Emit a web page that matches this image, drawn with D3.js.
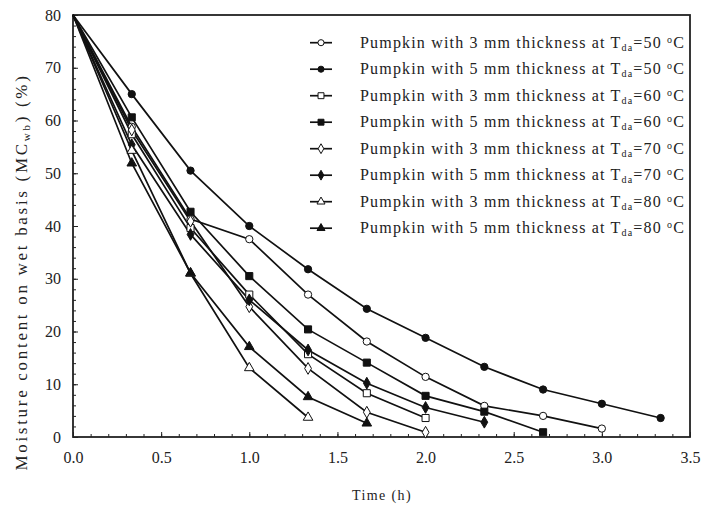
<!DOCTYPE html>
<html>
<head>
<meta charset="utf-8">
<script src="https://cdn.jsdelivr.net/npm/d3@7/dist/d3.min.js"></script>
<style>
  body { margin: 0; background: #fff; }
  text { font-family: "Liberation Serif", "Times New Roman", serif; fill: #222; }
</style>
</head>
<body>
<script>
// drying times (h)
const times = [0, 1/3, 2/3, 1, 4/3, 5/3, 2, 7/3, 8/3, 3, 10/3];

// moisture content on wet basis (%), one array per run
const mc3mm50 = [80, 58.8, 41.3, 37.5, 27.0, 18.1, 11.4, 5.9, 4.0, 1.6];
const mc5mm50 = [80, 65.0, 50.5, 40.0, 31.8, 24.3, 18.8, 13.3, 9.0, 6.3, 3.6];
const mc3mm60 = [80, 57.4, 39.6, 27.0, 15.7, 8.3, 3.6];
const mc5mm60 = [80, 60.6, 42.7, 30.5, 20.4, 14.1, 7.8, 4.8, 0.9];
const mc3mm70 = [80, 58.2, 40.9, 24.7, 13.0, 4.7, 0.9];
const mc5mm70 = [80, 55.4, 38.4, 26.0, 16.5, 10.2, 5.6, 2.8];
const mc3mm80 = [80, 54.3, 31.0, 13.1, 3.7];
const mc5mm80 = [80, 51.9, 31.1, 17.1, 7.6, 2.6];

const thickness = ["3", "5", "3", "5", "3", "5", "3", "5"];
const temps = ["50", "50", "60", "60", "70", "70", "80", "80"];
const shapes = ["circle", "circle", "square", "square", "diamond", "diamond", "triangle", "triangle"];
const filled = [false, true, false, true, false, true, false, true];
const seriesValues = [mc3mm50, mc5mm50, mc3mm60, mc5mm60, mc3mm70, mc5mm70, mc3mm80, mc5mm80];

const xTicks = [0, 0.5, 1, 1.5, 2, 2.5, 3, 3.5];
const yTicks = [0, 10, 20, 30, 40, 50, 60, 70, 80];

const W = 715, H = 506;
const m = {left: 73, right: 25, top: 15, bottom: 69};

const svg = d3.select("body").append("svg")
  .attr("width", W).attr("height", H);

const x = d3.scaleLinear().domain([0, 3.5]).range([m.left, W - m.right]);
const y = d3.scaleLinear().domain([0, 80]).range([H - m.bottom, m.top]);

// minor ticks
const minorX = d3.range(0, 3.5001, 0.1);
const minorY = d3.range(0, 80.001, 2);

svg.append("g")
  .attr("transform", `translate(0,${y(0)})`)
  .call(d3.axisBottom(x).tickValues(minorX).tickSize(-3).tickFormat(""))
  .call(g => g.select(".domain").remove())
  .selectAll("line").attr("stroke", "#222");

svg.append("g")
  .attr("transform", `translate(${x(0)},0)`)
  .call(d3.axisLeft(y).tickValues(minorY).tickSize(-3).tickFormat(""))
  .call(g => g.select(".domain").remove())
  .selectAll("line").attr("stroke", "#222");

const xAxis = svg.append("g")
  .attr("transform", `translate(0,${y(0)})`)
  .call(d3.axisBottom(x).tickValues(xTicks).tickSize(-5).tickPadding(15).tickFormat(d3.format(".1f")));
xAxis.select(".domain").remove();
xAxis.selectAll("line").attr("stroke", "#222");
xAxis.selectAll("text").attr("font-size", 16).attr("font-family", "Liberation Serif").attr("fill", "#222");

const yAxis = svg.append("g")
  .attr("transform", `translate(${x(0)},0)`)
  .call(d3.axisLeft(y).tickValues(yTicks).tickSize(-5).tickPadding(12));
yAxis.select(".domain").remove();
yAxis.selectAll("line").attr("stroke", "#222");
yAxis.selectAll("text").attr("font-size", 16).attr("font-family", "Liberation Serif").attr("fill", "#222");

// frame
svg.append("rect")
  .attr("x", x(0)).attr("y", y(80))
  .attr("width", x(3.5) - x(0)).attr("height", y(0) - y(80))
  .attr("fill", "none").attr("stroke", "#222").attr("stroke-width", 1.8);

const symbolType = {
  circle: d3.symbolCircle, square: d3.symbolSquare,
  diamond: d3.symbolDiamond, triangle: d3.symbolTriangle
};
const symbolSize = {circle: 42, square: 50, diamond: 40, triangle: 40};

const line = d3.line().x(d => x(d[0])).y(d => y(d[1]));

seriesValues.forEach((vals, i) => {
  const pts = vals.map((v, j) => [times[j], v]);
  svg.append("path")
    .datum(pts)
    .attr("d", line)
    .attr("fill", "none")
    .attr("stroke", "#111")
    .attr("stroke-width", 1.7);
});

seriesValues.forEach((vals, i) => {
  const pts = vals.map((v, j) => [times[j], v]).slice(1);
  svg.append("g").selectAll("path")
    .data(pts)
    .enter().append("path")
    .attr("transform", d => `translate(${x(d[0])},${y(d[1])})`)
    .attr("d", d3.symbol().type(symbolType[shapes[i]]).size(symbolSize[shapes[i]]))
    .attr("fill", filled[i] ? "#111" : "#fff")
    .attr("stroke", "#111")
    .attr("stroke-width", 1);
});

// legend
const legend = svg.append("g");
seriesValues.forEach((vals, i) => {
  const ly = 42.7 + i * 26.5;
  legend.append("line")
    .attr("x1", 310).attr("x2", 332).attr("y1", ly).attr("y2", ly)
    .attr("stroke", "#111").attr("stroke-width", 1.7);
  legend.append("path")
    .attr("transform", `translate(321,${ly})`)
    .attr("d", d3.symbol().type(symbolType[shapes[i]]).size(symbolSize[shapes[i]] * 0.7))
    .attr("fill", filled[i] ? "#111" : "#fff")
    .attr("stroke", "#111").attr("stroke-width", 1);
  const t = legend.append("text")
    .attr("x", 360).attr("y", ly + 5)
    .attr("font-size", 16)
    .attr("letter-spacing", 1.18);
  t.append("tspan").text(`Pumpkin with ${thickness[i]} mm thickness at T`);
  t.append("tspan").attr("font-size", 10).attr("dy", 3).text("da");
  t.append("tspan").attr("dy", -3).text(`=${temps[i]} `);
  t.append("tspan").attr("font-size", 10).attr("dy", -5).text("o");
  t.append("tspan").attr("dy", 5).text("C");
});

// axis titles
svg.append("text")
  .attr("x", 382).attr("y", 500)
  .attr("text-anchor", "middle")
  .attr("font-size", 14)
  .attr("letter-spacing", 1.4)
  .text("Time (h)");

const yl = svg.append("text")
  .attr("transform", `translate(27,272) rotate(-90)`)
  .attr("text-anchor", "middle")
  .attr("font-size", 17)
  .attr("letter-spacing", 2.7);
yl.append("tspan").text("Moisture content on wet basis (MC");
yl.append("tspan").attr("font-size", 11).attr("dy", 3).text("wb");
yl.append("tspan").attr("dy", -3).text(") (%)");
</script>
</body>
</html>
